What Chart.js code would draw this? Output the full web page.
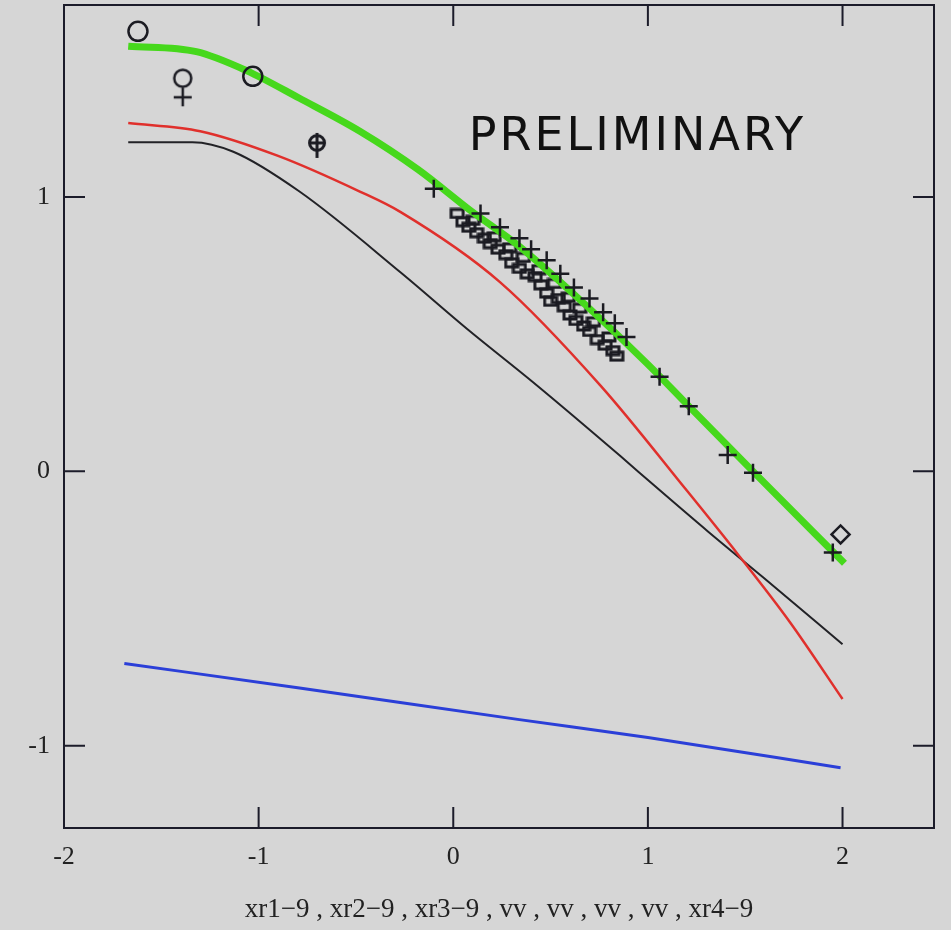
<!DOCTYPE html>
<html>
<head>
<meta charset="utf-8">
<script src="https://cdn.jsdelivr.net/npm/chart.js@4"></script>
<style>
  html, body { margin: 0; padding: 0; background: #d6d6d6; }
  #wrap { width: 951px; height: 930px; }
</style>
</head>
<body>
<div id="wrap"><canvas id="chart"></canvas></div>
<script>
// tick positions
const xTicks = [-2, -1, 0, 1, 2];
const yTicks = [-1, 0, 1];
const xTitle = "xr1\u22129 , xr2\u22129 , xr3\u22129 , vv , vv , vv , vv , xr4\u22129";
const stampText = "PRELIMINARY";

// curves vs vv
const greenX = [-1.67, -1.32, -1.06, -0.79, -0.48, -0.18, 0.09, 0.34, 0.69, 1.00, 1.20, 1.54, 2.01];
const greenY = [1.55, 1.53, 1.46, 1.36, 1.24, 1.10, 0.95, 0.82, 0.60, 0.39, 0.245, 0.00, -0.335];
const redX = [-1.67, -1.30, -0.90, -0.48, -0.27, 0.24, 0.76, 1.20, 1.46, 1.73, 2.00];
const redY = [1.27, 1.24, 1.15, 1.02, 0.945, 0.69, 0.31, -0.07, -0.30, -0.55, -0.83];
const blackX = [-1.67, -1.34, -1.13, -0.79, -0.27, 0.07, 0.41, 0.86, 1.03, 1.31, 1.59, 2.00];
const blackY = [1.20, 1.20, 1.165, 1.02, 0.725, 0.52, 0.325, 0.055, -0.05, -0.22, -0.385, -0.63];
const blueX = [-1.69, -0.79, 0.34, 1.00, 1.99];
const blueY = [-0.70, -0.79, -0.905, -0.97, -1.08];

// measured points
const squareX = [0.02, 0.05, 0.08, 0.12, 0.16, 0.19, 0.23, 0.27, 0.30, 0.34, 0.38, 0.42, 0.45, 0.48, 0.50, 0.54, 0.57, 0.60, 0.63, 0.67, 0.70, 0.74, 0.78, 0.82, 0.84,
                 0.10, 0.21, 0.29, 0.36, 0.44, 0.52, 0.59, 0.65, 0.72, 0.80];
const squareY = [0.94, 0.91, 0.89, 0.87, 0.85, 0.83, 0.81, 0.79, 0.76, 0.74, 0.72, 0.71, 0.68, 0.65, 0.62, 0.63, 0.60, 0.57, 0.55, 0.53, 0.51, 0.48, 0.46, 0.44, 0.42,
                 0.915, 0.855, 0.815, 0.78, 0.735, 0.685, 0.635, 0.595, 0.545, 0.49];
const plusX = [-0.10, 0.14, 0.24, 0.34, 0.40, 0.48, 0.55, 0.62, 0.70, 0.77, 0.83, 0.89, 1.06, 1.21, 1.41, 1.54, 1.95];
const plusY = [1.03, 0.94, 0.89, 0.85, 0.81, 0.77, 0.72, 0.67, 0.63, 0.58, 0.54, 0.49, 0.345, 0.237, 0.06, -0.005, -0.296];
const circleX = [-1.62, -1.03];
const circleY = [1.604, 1.44];
const venusX = [-1.39];
const venusY = [1.40];
const earthX = [-0.70];
const earthY = [1.19];
const diamondX = [1.99];
const diamondY = [-0.23];

const stampAt = [0.08, 1.17];

function pairs(xs, ys) {
    return xs.map((x, i) => ({ x: x, y: ys[i] }));
}

function glyph(w, h, draw) {
    const c = document.createElement("canvas");
    c.width = w;
    c.height = h;
    const g = c.getContext("2d");
    g.strokeStyle = "#1b1b22";
    g.lineWidth = 2.5;
    draw(g);
    return c;
}

const venusImg = glyph(24, 40, g => {
    g.beginPath();
    g.arc(12, 11, 8.5, 0, Math.PI * 2);
    g.moveTo(12, 20); g.lineTo(12, 39);
    g.moveTo(3, 30); g.lineTo(21, 30);
    g.stroke();
});

const earthImg = glyph(22, 28, g => {
    g.lineWidth = 3;
    g.beginPath();
    g.arc(11, 12, 7.5, 0, Math.PI * 2);
    g.moveTo(11, 2); g.lineTo(11, 27);
    g.moveTo(3, 12); g.lineTo(19, 12);
    g.stroke();
});

const boxImg = glyph(16, 12, g => {
    g.lineWidth = 3;
    g.strokeRect(2, 2, 12, 8);
});

function lineSet(xs, ys, color, width, order) {
    return {
        data: pairs(xs, ys),
        showLine: true,
        borderColor: color,
        borderWidth: width,
        pointRadius: 0,
        cubicInterpolationMode: "monotone",
        order: order
    };
}

function pointSet(xs, ys, style, radius, order) {
    return {
        data: pairs(xs, ys),
        showLine: false,
        pointStyle: style,
        pointRadius: radius,
        borderColor: "#1b1b22",
        backgroundColor: "rgba(0,0,0,0)",
        borderWidth: 2.5,
        order: order
    };
}

const framePlugin = {
    id: "frame",
    beforeDatasetsDraw(chart) {
        const { ctx, chartArea: a, scales: { x, y } } = chart;
        const tl = 21;
        ctx.save();
        ctx.strokeStyle = "#1c1c2a";
        ctx.lineWidth = 2;
        ctx.strokeRect(a.left, a.top, a.right - a.left, a.bottom - a.top);
        ctx.beginPath();
        x.ticks.forEach(t => {
            const px = x.getPixelForValue(t.value);
            ctx.moveTo(px, a.bottom); ctx.lineTo(px, a.bottom - tl);
            ctx.moveTo(px, a.top); ctx.lineTo(px, a.top + tl);
        });
        y.ticks.forEach(t => {
            const py = y.getPixelForValue(t.value);
            ctx.moveTo(a.left, py); ctx.lineTo(a.left + tl, py);
            ctx.moveTo(a.right, py); ctx.lineTo(a.right - tl, py);
        });
        ctx.stroke();

        ctx.fillStyle = "#111";
        ctx.font = '46px "DejaVu Sans"';
        ctx.letterSpacing = "3px";
        ctx.textBaseline = "alphabetic";
        ctx.fillText(stampText, x.getPixelForValue(stampAt[0]), y.getPixelForValue(stampAt[1]));
        ctx.restore();
    }
};

const tickFont = { family: '"Liberation Serif", serif', size: 26 };

function noPad(s) {
    s.paddingTop = 0;
    s.paddingBottom = 0;
    s.paddingLeft = 0;
    s.paddingRight = 0;
}

new Chart(document.getElementById("chart"), {
    type: "scatter",
    data: {
        datasets: [
            pointSet(plusX, plusY, "cross", 9, 0),
            pointSet(circleX, circleY, "circle", 9.5, 1),
            pointSet(diamondX, diamondY, "rectRot", 9, 1),
            pointSet(venusX, venusY, venusImg, 10, 1),
            pointSet(earthX, earthY, earthImg, 10, 1),
            lineSet(greenX, greenY, "#46d81c", 7, 2),
            pointSet(squareX, squareY, boxImg, 7, 3),
            lineSet(redX, redY, "#e0302c", 2.5, 4),
            lineSet(blackX, blackY, "#222226", 2, 5),
            lineSet(blueX, blueY, "#2b3fd8", 3, 6)
        ]
    },
    options: {
        responsive: true,
        maintainAspectRatio: false,
        animation: false,
        layout: { autoPadding: false, padding: { top: 5, right: 17, left: 0, bottom: 0 } },
        scales: {
            x: {
                type: "linear",
                min: -2,
                max: 2.47,
                afterBuildTicks: s => { s.ticks = xTicks.map(v => ({ value: v })); },
                afterFit: s => { s.height = 102; noPad(s); },
                grid: { display: false, drawTicks: false },
                border: { display: false },
                ticks: { font: tickFont, color: "#222", padding: 14, maxRotation: 0 },
                title: {
                    display: true,
                    text: xTitle,
                    font: { family: '"Liberation Serif", serif', size: 27 },
                    color: "#222",
                    padding: { top: 0, bottom: 4 }
                }
            },
            y: {
                type: "linear",
                min: -1.3,
                max: 1.7,
                afterBuildTicks: s => { s.ticks = yTicks.map(v => ({ value: v })); },
                afterFit: s => { s.width = 64; noPad(s); },
                grid: { display: false, drawTicks: false },
                border: { display: false },
                ticks: { font: tickFont, color: "#222", padding: 14 }
            }
        },
        plugins: {
            legend: { display: false },
            tooltip: { enabled: false }
        }
    },
    plugins: [framePlugin]
});
</script>
</body>
</html>
